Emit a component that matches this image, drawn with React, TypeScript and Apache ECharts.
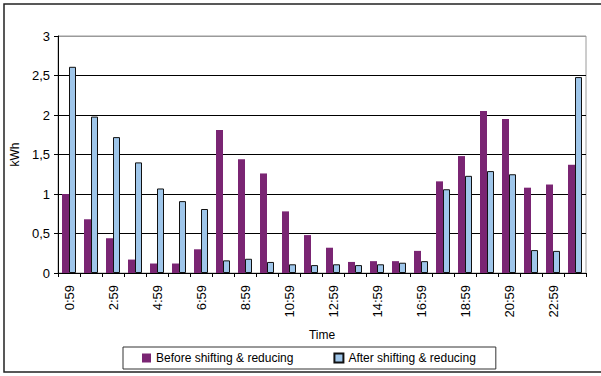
import React, { useEffect, useRef } from "react";
import * as echarts from "echarts";

// Hour-end labels for each of the 24 hourly slots
const hours: string[] = [
  "0:59", "1:59", "2:59", "3:59", "4:59", "5:59", "6:59", "7:59",
  "8:59", "9:59", "10:59", "11:59", "12:59", "13:59", "14:59", "15:59",
  "16:59", "17:59", "18:59", "19:59", "20:59", "21:59", "22:59", "23:59",
];

// Hourly energy use in kWh
const beforeShifting: number[] = [
  1.0, 0.68, 0.44, 0.17, 0.12, 0.12, 0.3, 1.81,
  1.44, 1.26, 0.78, 0.48, 0.32, 0.14, 0.15, 0.15,
  0.28, 1.16, 1.48, 2.05, 1.95, 1.08, 1.12, 1.37,
];
const afterShifting: number[] = [
  2.61, 1.98, 1.72, 1.4, 1.07, 0.91, 0.81, 0.16,
  0.18, 0.14, 0.11, 0.1, 0.11, 0.1, 0.11, 0.13,
  0.15, 1.06, 1.23, 1.29, 1.25, 0.29, 0.28, 2.48,
];

const seriesNames: string[] = ["Before shifting & reducing", "After shifting & reducing"];
const yTicks = { min: 0, max: 3, interval: 0.5 };

const FONT = "'Liberation Sans', Arial, sans-serif";

export default function App() {
  const ref = useRef<HTMLDivElement>(null);

  useEffect(() => {
    if (!ref.current) return;
    const chart = echarts.init(ref.current, undefined, { renderer: "svg" });
    chart.setOption({
      animation: false,
      backgroundColor: "#ffffff",
      textStyle: { fontFamily: FONT, color: "#000" },
      graphic: [
        {
          type: "rect",
          shape: { x: 4, y: 4, width: 610, height: 368 },
          style: { fill: "none", stroke: "#222", lineWidth: 1.5 },
          silent: true,
          z: -1,
        },
      ],
      grid: {
        left: 58,
        right: 15,
        top: 36,
        bottom: 103,
        show: true,
        borderColor: "#9a9a9a",
        borderWidth: 1,
      },
      legend: {
        left: 123,
        top: 347,
        padding: [5, 20, 5, 19],
        borderColor: "#333",
        borderWidth: 1,
        itemWidth: 9,
        itemHeight: 9,
        itemGap: 40,
        icon: "rect",
        textStyle: { fontFamily: FONT, fontSize: 12, color: "#000" },
        data: seriesNames,
      },
      xAxis: {
        type: "category",
        data: hours,
        name: "Time",
        nameLocation: "middle",
        nameGap: 56,
        nameTextStyle: { fontFamily: FONT, fontSize: 12, color: "#000" },
        axisLine: { lineStyle: { color: "#000", width: 1 } },
        axisTick: { show: true, interval: 0, length: 4, lineStyle: { color: "#000" } },
        axisLabel: {
          interval: 1,
          rotate: 90,
          margin: 12,
          fontFamily: FONT,
          fontSize: 13,
          color: "#000",
        },
      },
      yAxis: {
        type: "value",
        min: yTicks.min,
        max: yTicks.max,
        interval: yTicks.interval,
        name: "kWh",
        nameLocation: "middle",
        nameGap: 35,
        nameTextStyle: { fontFamily: FONT, fontSize: 12, color: "#000" },
        axisLine: { show: true, lineStyle: { color: "#000", width: 1 } },
        axisTick: { show: true, length: 4, lineStyle: { color: "#000" } },
        axisLabel: {
          margin: 8,
          fontFamily: FONT,
          fontSize: 13,
          color: "#000",
          formatter: (v: number) => String(v).replace(".", ","),
        },
        splitLine: {
          show: true,
          lineStyle: {
            color: ["#000", "#000", "#000", "#000", "#000", "#000", "#9a9a9a"],
            width: 1,
          },
        },
      },
      series: [
        {
          name: seriesNames[0],
          type: "bar",
          data: beforeShifting,
          barWidth: 7,
          barGap: "0%",
          itemStyle: { color: "#7a2573" },
        },
        {
          name: seriesNames[1],
          type: "bar",
          data: afterShifting,
          barWidth: 7,
          barGap: "0%",
          itemStyle: { color: "#9fc6ea", borderColor: "#111", borderWidth: 1 },
        },
      ],
    });
    return () => chart.dispose();
  }, []);

  return (
    <div
      ref={ref}
      style={{ position: "fixed", left: 0, top: 0, width: 601, height: 376 }}
    />
  );
}
